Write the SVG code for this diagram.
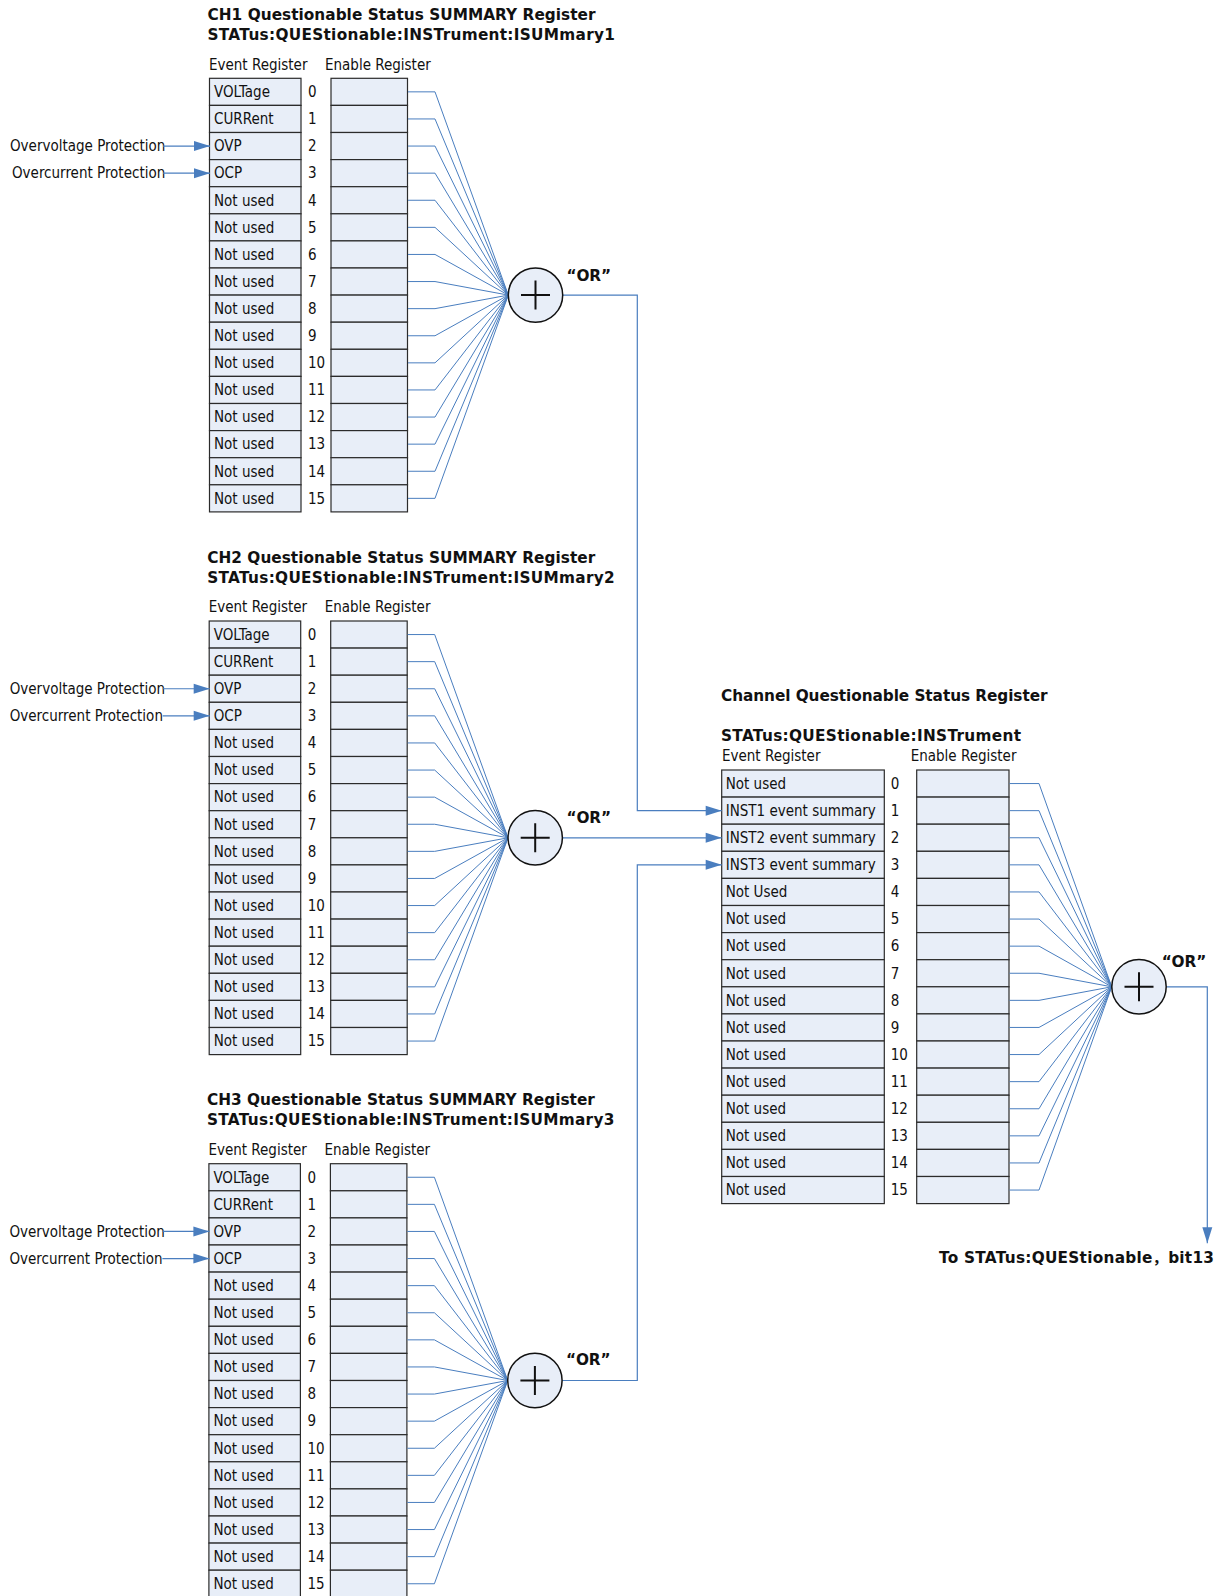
<svg xmlns="http://www.w3.org/2000/svg" width="1226" height="1596" viewBox="0 0 1226 1596">
<style>
.reg{fill:#e8eef8;stroke:#2b2b2b;stroke-width:1.2}
.t{font-family:"DejaVu Sans Condensed","DejaVu Sans",sans-serif;font-size:15px;fill:#111}
.h{font-family:"DejaVu Sans","Noto Sans CJK SC",sans-serif;font-weight:bold;font-size:15.3px;fill:#111}
.w{fill:none;stroke:#4a7ebf;stroke-width:1}
.a{fill:none;stroke:#4a7ebf;stroke-width:1.2;marker-end:url(#arr)}
.orc{fill:#e8eef8;stroke:#111;stroke-width:1.5}
.pl{stroke:#111;stroke-width:2;fill:none}
</style>
<defs>
<marker id="arr" markerUnits="userSpaceOnUse" markerWidth="16" markerHeight="10" refX="16" refY="5" orient="auto" overflow="visible">
<path d="M0,0 L16,5 L0,10 z" fill="#4a7ebf"/>
</marker>
</defs>
<rect width="1226" height="1596" fill="#fff"/>

<g id="ch1">
<text class="h" x="207.5" y="20" textLength="388">CH1 Questionable Status SUMMARY Register</text>
<text class="h" x="207.5" y="40" textLength="407.5">STATus:QUEStionable:INSTrument:ISUMmary1</text>
<text class="t" x="209" y="69.5">Event Register</text>
<text class="t" x="325" y="69.5">Enable Register</text>
<text class="t" x="10" y="151.35">Overvoltage Protection</text>
<text class="t" x="12" y="178.45">Overcurrent Protection</text>
<rect class="reg" x="209.5" y="78.3" width="91.5" height="27.1"/><text class="t" x="214" y="97.15">VOLTage</text><text class="t" x="308" y="97.15">0</text><rect class="reg" x="331" y="78.3" width="76.5" height="27.1"/>
<rect class="reg" x="209.5" y="105.4" width="91.5" height="27.1"/><text class="t" x="214" y="124.25">CURRent</text><text class="t" x="308" y="124.25">1</text><rect class="reg" x="331" y="105.4" width="76.5" height="27.1"/>
<rect class="reg" x="209.5" y="132.5" width="91.5" height="27.1"/><text class="t" x="214" y="151.35">OVP</text><text class="t" x="308" y="151.35">2</text><rect class="reg" x="331" y="132.5" width="76.5" height="27.1"/>
<rect class="reg" x="209.5" y="159.6" width="91.5" height="27.1"/><text class="t" x="214" y="178.45">OCP</text><text class="t" x="308" y="178.45">3</text><rect class="reg" x="331" y="159.6" width="76.5" height="27.1"/>
<rect class="reg" x="209.5" y="186.7" width="91.5" height="27.1"/><text class="t" x="214" y="205.55">Not used</text><text class="t" x="308" y="205.55">4</text><rect class="reg" x="331" y="186.7" width="76.5" height="27.1"/>
<rect class="reg" x="209.5" y="213.8" width="91.5" height="27.1"/><text class="t" x="214" y="232.65">Not used</text><text class="t" x="308" y="232.65">5</text><rect class="reg" x="331" y="213.8" width="76.5" height="27.1"/>
<rect class="reg" x="209.5" y="240.9" width="91.5" height="27.1"/><text class="t" x="214" y="259.75">Not used</text><text class="t" x="308" y="259.75">6</text><rect class="reg" x="331" y="240.9" width="76.5" height="27.1"/>
<rect class="reg" x="209.5" y="268" width="91.5" height="27.1"/><text class="t" x="214" y="286.85">Not used</text><text class="t" x="308" y="286.85">7</text><rect class="reg" x="331" y="268" width="76.5" height="27.1"/>
<rect class="reg" x="209.5" y="295.1" width="91.5" height="27.1"/><text class="t" x="214" y="313.95">Not used</text><text class="t" x="308" y="313.95">8</text><rect class="reg" x="331" y="295.1" width="76.5" height="27.1"/>
<rect class="reg" x="209.5" y="322.2" width="91.5" height="27.1"/><text class="t" x="214" y="341.05">Not used</text><text class="t" x="308" y="341.05">9</text><rect class="reg" x="331" y="322.2" width="76.5" height="27.1"/>
<rect class="reg" x="209.5" y="349.3" width="91.5" height="27.1"/><text class="t" x="214" y="368.15">Not used</text><text class="t" x="308" y="368.15">10</text><rect class="reg" x="331" y="349.3" width="76.5" height="27.1"/>
<rect class="reg" x="209.5" y="376.4" width="91.5" height="27.1"/><text class="t" x="214" y="395.25">Not used</text><text class="t" x="308" y="395.25">11</text><rect class="reg" x="331" y="376.4" width="76.5" height="27.1"/>
<rect class="reg" x="209.5" y="403.5" width="91.5" height="27.1"/><text class="t" x="214" y="422.35">Not used</text><text class="t" x="308" y="422.35">12</text><rect class="reg" x="331" y="403.5" width="76.5" height="27.1"/>
<rect class="reg" x="209.5" y="430.6" width="91.5" height="27.1"/><text class="t" x="214" y="449.45">Not used</text><text class="t" x="308" y="449.45">13</text><rect class="reg" x="331" y="430.6" width="76.5" height="27.1"/>
<rect class="reg" x="209.5" y="457.7" width="91.5" height="27.1"/><text class="t" x="214" y="476.55">Not used</text><text class="t" x="308" y="476.55">14</text><rect class="reg" x="331" y="457.7" width="76.5" height="27.1"/>
<rect class="reg" x="209.5" y="484.8" width="91.5" height="27.1"/><text class="t" x="214" y="503.65">Not used</text><text class="t" x="308" y="503.65">15</text><rect class="reg" x="331" y="484.8" width="76.5" height="27.1"/>
</g>

<g id="ch2" transform="translate(-0.3,542.7)">
<text class="h" x="207.5" y="20" textLength="388">CH2 Questionable Status SUMMARY Register</text>
<text class="h" x="207.5" y="40" textLength="407.5">STATus:QUEStionable:INSTrument:ISUMmary2</text>
<text class="t" x="209" y="69.5">Event Register</text>
<text class="t" x="325" y="69.5">Enable Register</text>
<text class="t" x="10" y="151.35">Overvoltage Protection</text>
<text class="t" x="10" y="178.45">Overcurrent Protection</text>
<rect class="reg" x="209.5" y="78.3" width="91.5" height="27.1"/><text class="t" x="214" y="97.15">VOLTage</text><text class="t" x="308" y="97.15">0</text><rect class="reg" x="331" y="78.3" width="76.5" height="27.1"/>
<rect class="reg" x="209.5" y="105.4" width="91.5" height="27.1"/><text class="t" x="214" y="124.25">CURRent</text><text class="t" x="308" y="124.25">1</text><rect class="reg" x="331" y="105.4" width="76.5" height="27.1"/>
<rect class="reg" x="209.5" y="132.5" width="91.5" height="27.1"/><text class="t" x="214" y="151.35">OVP</text><text class="t" x="308" y="151.35">2</text><rect class="reg" x="331" y="132.5" width="76.5" height="27.1"/>
<rect class="reg" x="209.5" y="159.6" width="91.5" height="27.1"/><text class="t" x="214" y="178.45">OCP</text><text class="t" x="308" y="178.45">3</text><rect class="reg" x="331" y="159.6" width="76.5" height="27.1"/>
<rect class="reg" x="209.5" y="186.7" width="91.5" height="27.1"/><text class="t" x="214" y="205.55">Not used</text><text class="t" x="308" y="205.55">4</text><rect class="reg" x="331" y="186.7" width="76.5" height="27.1"/>
<rect class="reg" x="209.5" y="213.8" width="91.5" height="27.1"/><text class="t" x="214" y="232.65">Not used</text><text class="t" x="308" y="232.65">5</text><rect class="reg" x="331" y="213.8" width="76.5" height="27.1"/>
<rect class="reg" x="209.5" y="240.9" width="91.5" height="27.1"/><text class="t" x="214" y="259.75">Not used</text><text class="t" x="308" y="259.75">6</text><rect class="reg" x="331" y="240.9" width="76.5" height="27.1"/>
<rect class="reg" x="209.5" y="268" width="91.5" height="27.1"/><text class="t" x="214" y="286.85">Not used</text><text class="t" x="308" y="286.85">7</text><rect class="reg" x="331" y="268" width="76.5" height="27.1"/>
<rect class="reg" x="209.5" y="295.1" width="91.5" height="27.1"/><text class="t" x="214" y="313.95">Not used</text><text class="t" x="308" y="313.95">8</text><rect class="reg" x="331" y="295.1" width="76.5" height="27.1"/>
<rect class="reg" x="209.5" y="322.2" width="91.5" height="27.1"/><text class="t" x="214" y="341.05">Not used</text><text class="t" x="308" y="341.05">9</text><rect class="reg" x="331" y="322.2" width="76.5" height="27.1"/>
<rect class="reg" x="209.5" y="349.3" width="91.5" height="27.1"/><text class="t" x="214" y="368.15">Not used</text><text class="t" x="308" y="368.15">10</text><rect class="reg" x="331" y="349.3" width="76.5" height="27.1"/>
<rect class="reg" x="209.5" y="376.4" width="91.5" height="27.1"/><text class="t" x="214" y="395.25">Not used</text><text class="t" x="308" y="395.25">11</text><rect class="reg" x="331" y="376.4" width="76.5" height="27.1"/>
<rect class="reg" x="209.5" y="403.5" width="91.5" height="27.1"/><text class="t" x="214" y="422.35">Not used</text><text class="t" x="308" y="422.35">12</text><rect class="reg" x="331" y="403.5" width="76.5" height="27.1"/>
<rect class="reg" x="209.5" y="430.6" width="91.5" height="27.1"/><text class="t" x="214" y="449.45">Not used</text><text class="t" x="308" y="449.45">13</text><rect class="reg" x="331" y="430.6" width="76.5" height="27.1"/>
<rect class="reg" x="209.5" y="457.7" width="91.5" height="27.1"/><text class="t" x="214" y="476.55">Not used</text><text class="t" x="308" y="476.55">14</text><rect class="reg" x="331" y="457.7" width="76.5" height="27.1"/>
<rect class="reg" x="209.5" y="484.8" width="91.5" height="27.1"/><text class="t" x="214" y="503.65">Not used</text><text class="t" x="308" y="503.65">15</text><rect class="reg" x="331" y="484.8" width="76.5" height="27.1"/>
</g>

<g id="ch3" transform="translate(-0.6,1085.4)">
<text class="h" x="207.5" y="20" textLength="388">CH3 Questionable Status SUMMARY Register</text>
<text class="h" x="207.5" y="40" textLength="407.5">STATus:QUEStionable:INSTrument:ISUMmary3</text>
<text class="t" x="209" y="69.5">Event Register</text>
<text class="t" x="325" y="69.5">Enable Register</text>
<text class="t" x="10" y="151.35">Overvoltage Protection</text>
<text class="t" x="10" y="178.45">Overcurrent Protection</text>
<rect class="reg" x="209.5" y="78.3" width="91.5" height="27.1"/><text class="t" x="214" y="97.15">VOLTage</text><text class="t" x="308" y="97.15">0</text><rect class="reg" x="331" y="78.3" width="76.5" height="27.1"/>
<rect class="reg" x="209.5" y="105.4" width="91.5" height="27.1"/><text class="t" x="214" y="124.25">CURRent</text><text class="t" x="308" y="124.25">1</text><rect class="reg" x="331" y="105.4" width="76.5" height="27.1"/>
<rect class="reg" x="209.5" y="132.5" width="91.5" height="27.1"/><text class="t" x="214" y="151.35">OVP</text><text class="t" x="308" y="151.35">2</text><rect class="reg" x="331" y="132.5" width="76.5" height="27.1"/>
<rect class="reg" x="209.5" y="159.6" width="91.5" height="27.1"/><text class="t" x="214" y="178.45">OCP</text><text class="t" x="308" y="178.45">3</text><rect class="reg" x="331" y="159.6" width="76.5" height="27.1"/>
<rect class="reg" x="209.5" y="186.7" width="91.5" height="27.1"/><text class="t" x="214" y="205.55">Not used</text><text class="t" x="308" y="205.55">4</text><rect class="reg" x="331" y="186.7" width="76.5" height="27.1"/>
<rect class="reg" x="209.5" y="213.8" width="91.5" height="27.1"/><text class="t" x="214" y="232.65">Not used</text><text class="t" x="308" y="232.65">5</text><rect class="reg" x="331" y="213.8" width="76.5" height="27.1"/>
<rect class="reg" x="209.5" y="240.9" width="91.5" height="27.1"/><text class="t" x="214" y="259.75">Not used</text><text class="t" x="308" y="259.75">6</text><rect class="reg" x="331" y="240.9" width="76.5" height="27.1"/>
<rect class="reg" x="209.5" y="268" width="91.5" height="27.1"/><text class="t" x="214" y="286.85">Not used</text><text class="t" x="308" y="286.85">7</text><rect class="reg" x="331" y="268" width="76.5" height="27.1"/>
<rect class="reg" x="209.5" y="295.1" width="91.5" height="27.1"/><text class="t" x="214" y="313.95">Not used</text><text class="t" x="308" y="313.95">8</text><rect class="reg" x="331" y="295.1" width="76.5" height="27.1"/>
<rect class="reg" x="209.5" y="322.2" width="91.5" height="27.1"/><text class="t" x="214" y="341.05">Not used</text><text class="t" x="308" y="341.05">9</text><rect class="reg" x="331" y="322.2" width="76.5" height="27.1"/>
<rect class="reg" x="209.5" y="349.3" width="91.5" height="27.1"/><text class="t" x="214" y="368.15">Not used</text><text class="t" x="308" y="368.15">10</text><rect class="reg" x="331" y="349.3" width="76.5" height="27.1"/>
<rect class="reg" x="209.5" y="376.4" width="91.5" height="27.1"/><text class="t" x="214" y="395.25">Not used</text><text class="t" x="308" y="395.25">11</text><rect class="reg" x="331" y="376.4" width="76.5" height="27.1"/>
<rect class="reg" x="209.5" y="403.5" width="91.5" height="27.1"/><text class="t" x="214" y="422.35">Not used</text><text class="t" x="308" y="422.35">12</text><rect class="reg" x="331" y="403.5" width="76.5" height="27.1"/>
<rect class="reg" x="209.5" y="430.6" width="91.5" height="27.1"/><text class="t" x="214" y="449.45">Not used</text><text class="t" x="308" y="449.45">13</text><rect class="reg" x="331" y="430.6" width="76.5" height="27.1"/>
<rect class="reg" x="209.5" y="457.7" width="91.5" height="27.1"/><text class="t" x="214" y="476.55">Not used</text><text class="t" x="308" y="476.55">14</text><rect class="reg" x="331" y="457.7" width="76.5" height="27.1"/>
<rect class="reg" x="209.5" y="484.8" width="91.5" height="27.1"/><text class="t" x="214" y="503.65">Not used</text><text class="t" x="308" y="503.65">15</text><rect class="reg" x="331" y="484.8" width="76.5" height="27.1"/>
</g>

<g id="chq" transform="translate(0,691.7)">
<text class="h" x="721" y="9" textLength="326.5">Channel Questionable Status Register</text>
<text class="h" x="721" y="49" textLength="300">STATus:QUEStionable:INSTrument</text>
<text class="t" x="722" y="69">Event Register</text>
<text class="t" x="910.7" y="69">Enable Register</text>
<rect class="reg" x="721.7" y="78.3" width="162.6" height="27.1"/><text class="t" x="725.7" y="97.15">Not used</text><text class="t" x="890.7" y="97.15">0</text><rect class="reg" x="916.7" y="78.3" width="92.3" height="27.1"/>
<rect class="reg" x="721.7" y="105.4" width="162.6" height="27.1"/><text class="t" x="725.7" y="124.25">INST1 event summary</text><text class="t" x="890.7" y="124.25">1</text><rect class="reg" x="916.7" y="105.4" width="92.3" height="27.1"/>
<rect class="reg" x="721.7" y="132.5" width="162.6" height="27.1"/><text class="t" x="725.7" y="151.35">INST2 event summary</text><text class="t" x="890.7" y="151.35">2</text><rect class="reg" x="916.7" y="132.5" width="92.3" height="27.1"/>
<rect class="reg" x="721.7" y="159.6" width="162.6" height="27.1"/><text class="t" x="725.7" y="178.45">INST3 event summary</text><text class="t" x="890.7" y="178.45">3</text><rect class="reg" x="916.7" y="159.6" width="92.3" height="27.1"/>
<rect class="reg" x="721.7" y="186.7" width="162.6" height="27.1"/><text class="t" x="725.7" y="205.55">Not Used</text><text class="t" x="890.7" y="205.55">4</text><rect class="reg" x="916.7" y="186.7" width="92.3" height="27.1"/>
<rect class="reg" x="721.7" y="213.8" width="162.6" height="27.1"/><text class="t" x="725.7" y="232.65">Not used</text><text class="t" x="890.7" y="232.65">5</text><rect class="reg" x="916.7" y="213.8" width="92.3" height="27.1"/>
<rect class="reg" x="721.7" y="240.9" width="162.6" height="27.1"/><text class="t" x="725.7" y="259.75">Not used</text><text class="t" x="890.7" y="259.75">6</text><rect class="reg" x="916.7" y="240.9" width="92.3" height="27.1"/>
<rect class="reg" x="721.7" y="268" width="162.6" height="27.1"/><text class="t" x="725.7" y="286.85">Not used</text><text class="t" x="890.7" y="286.85">7</text><rect class="reg" x="916.7" y="268" width="92.3" height="27.1"/>
<rect class="reg" x="721.7" y="295.1" width="162.6" height="27.1"/><text class="t" x="725.7" y="313.95">Not used</text><text class="t" x="890.7" y="313.95">8</text><rect class="reg" x="916.7" y="295.1" width="92.3" height="27.1"/>
<rect class="reg" x="721.7" y="322.2" width="162.6" height="27.1"/><text class="t" x="725.7" y="341.05">Not used</text><text class="t" x="890.7" y="341.05">9</text><rect class="reg" x="916.7" y="322.2" width="92.3" height="27.1"/>
<rect class="reg" x="721.7" y="349.3" width="162.6" height="27.1"/><text class="t" x="725.7" y="368.15">Not used</text><text class="t" x="890.7" y="368.15">10</text><rect class="reg" x="916.7" y="349.3" width="92.3" height="27.1"/>
<rect class="reg" x="721.7" y="376.4" width="162.6" height="27.1"/><text class="t" x="725.7" y="395.25">Not used</text><text class="t" x="890.7" y="395.25">11</text><rect class="reg" x="916.7" y="376.4" width="92.3" height="27.1"/>
<rect class="reg" x="721.7" y="403.5" width="162.6" height="27.1"/><text class="t" x="725.7" y="422.35">Not used</text><text class="t" x="890.7" y="422.35">12</text><rect class="reg" x="916.7" y="403.5" width="92.3" height="27.1"/>
<rect class="reg" x="721.7" y="430.6" width="162.6" height="27.1"/><text class="t" x="725.7" y="449.45">Not used</text><text class="t" x="890.7" y="449.45">13</text><rect class="reg" x="916.7" y="430.6" width="92.3" height="27.1"/>
<rect class="reg" x="721.7" y="457.7" width="162.6" height="27.1"/><text class="t" x="725.7" y="476.55">Not used</text><text class="t" x="890.7" y="476.55">14</text><rect class="reg" x="916.7" y="457.7" width="92.3" height="27.1"/>
<rect class="reg" x="721.7" y="484.8" width="162.6" height="27.1"/><text class="t" x="725.7" y="503.65">Not used</text><text class="t" x="890.7" y="503.65">15</text><rect class="reg" x="916.7" y="484.8" width="92.3" height="27.1"/>
</g>

<g id="connectors">
<g id="fan1">
<polyline class="w" points="408,91.85 435,91.85 508.3,295.1"/>
<polyline class="w" points="408,118.95 435,118.95 508.3,295.1"/>
<polyline class="w" points="408,146.05 435,146.05 508.3,295.1"/>
<polyline class="w" points="408,173.15 435,173.15 508.3,295.1"/>
<polyline class="w" points="408,200.25 435,200.25 508.3,295.1"/>
<polyline class="w" points="408,227.35 435,227.35 508.3,295.1"/>
<polyline class="w" points="408,254.45 435,254.45 508.3,295.1"/>
<polyline class="w" points="408,281.55 435,281.55 508.3,295.1"/>
<polyline class="w" points="408,308.65 435,308.65 508.3,295.1"/>
<polyline class="w" points="408,335.75 435,335.75 508.3,295.1"/>
<polyline class="w" points="408,362.85 435,362.85 508.3,295.1"/>
<polyline class="w" points="408,389.95 435,389.95 508.3,295.1"/>
<polyline class="w" points="408,417.05 435,417.05 508.3,295.1"/>
<polyline class="w" points="408,444.15 435,444.15 508.3,295.1"/>
<polyline class="w" points="408,471.25 435,471.25 508.3,295.1"/>
<polyline class="w" points="408,498.35 435,498.35 508.3,295.1"/>
<line class="a" x1="163" y1="146.05" x2="210" y2="146.05"/>
<line class="a" x1="163" y1="173.15" x2="210" y2="173.15"/>
</g>
<g id="fan2" transform="translate(-0.3,542.7)">
<polyline class="w" points="408,91.85 435,91.85 508.3,295.1"/>
<polyline class="w" points="408,118.95 435,118.95 508.3,295.1"/>
<polyline class="w" points="408,146.05 435,146.05 508.3,295.1"/>
<polyline class="w" points="408,173.15 435,173.15 508.3,295.1"/>
<polyline class="w" points="408,200.25 435,200.25 508.3,295.1"/>
<polyline class="w" points="408,227.35 435,227.35 508.3,295.1"/>
<polyline class="w" points="408,254.45 435,254.45 508.3,295.1"/>
<polyline class="w" points="408,281.55 435,281.55 508.3,295.1"/>
<polyline class="w" points="408,308.65 435,308.65 508.3,295.1"/>
<polyline class="w" points="408,335.75 435,335.75 508.3,295.1"/>
<polyline class="w" points="408,362.85 435,362.85 508.3,295.1"/>
<polyline class="w" points="408,389.95 435,389.95 508.3,295.1"/>
<polyline class="w" points="408,417.05 435,417.05 508.3,295.1"/>
<polyline class="w" points="408,444.15 435,444.15 508.3,295.1"/>
<polyline class="w" points="408,471.25 435,471.25 508.3,295.1"/>
<polyline class="w" points="408,498.35 435,498.35 508.3,295.1"/>
<line class="a" x1="163" y1="146.05" x2="210" y2="146.05"/>
<line class="a" x1="163" y1="173.15" x2="210" y2="173.15"/>
</g>
<g id="fan3" transform="translate(-0.6,1085.4)">
<polyline class="w" points="408,91.85 435,91.85 508.3,295.1"/>
<polyline class="w" points="408,118.95 435,118.95 508.3,295.1"/>
<polyline class="w" points="408,146.05 435,146.05 508.3,295.1"/>
<polyline class="w" points="408,173.15 435,173.15 508.3,295.1"/>
<polyline class="w" points="408,200.25 435,200.25 508.3,295.1"/>
<polyline class="w" points="408,227.35 435,227.35 508.3,295.1"/>
<polyline class="w" points="408,254.45 435,254.45 508.3,295.1"/>
<polyline class="w" points="408,281.55 435,281.55 508.3,295.1"/>
<polyline class="w" points="408,308.65 435,308.65 508.3,295.1"/>
<polyline class="w" points="408,335.75 435,335.75 508.3,295.1"/>
<polyline class="w" points="408,362.85 435,362.85 508.3,295.1"/>
<polyline class="w" points="408,389.95 435,389.95 508.3,295.1"/>
<polyline class="w" points="408,417.05 435,417.05 508.3,295.1"/>
<polyline class="w" points="408,444.15 435,444.15 508.3,295.1"/>
<polyline class="w" points="408,471.25 435,471.25 508.3,295.1"/>
<polyline class="w" points="408,498.35 435,498.35 508.3,295.1"/>
<line class="a" x1="163" y1="146.05" x2="210" y2="146.05"/>
<line class="a" x1="163" y1="173.15" x2="210" y2="173.15"/>
</g>
<g id="fanq" transform="translate(0,691.7)">
<polyline class="w" points="1009.5,91.85 1039,91.85 1111.7,295.1"/>
<polyline class="w" points="1009.5,118.95 1039,118.95 1111.7,295.1"/>
<polyline class="w" points="1009.5,146.05 1039,146.05 1111.7,295.1"/>
<polyline class="w" points="1009.5,173.15 1039,173.15 1111.7,295.1"/>
<polyline class="w" points="1009.5,200.25 1039,200.25 1111.7,295.1"/>
<polyline class="w" points="1009.5,227.35 1039,227.35 1111.7,295.1"/>
<polyline class="w" points="1009.5,254.45 1039,254.45 1111.7,295.1"/>
<polyline class="w" points="1009.5,281.55 1039,281.55 1111.7,295.1"/>
<polyline class="w" points="1009.5,308.65 1039,308.65 1111.7,295.1"/>
<polyline class="w" points="1009.5,335.75 1039,335.75 1111.7,295.1"/>
<polyline class="w" points="1009.5,362.85 1039,362.85 1111.7,295.1"/>
<polyline class="w" points="1009.5,389.95 1039,389.95 1111.7,295.1"/>
<polyline class="w" points="1009.5,417.05 1039,417.05 1111.7,295.1"/>
<polyline class="w" points="1009.5,444.15 1039,444.15 1111.7,295.1"/>
<polyline class="w" points="1009.5,471.25 1039,471.25 1111.7,295.1"/>
<polyline class="w" points="1009.5,498.35 1039,498.35 1111.7,295.1"/>
</g>
<polyline class="a" points="562.7,295.1 637.3,295.1 637.3,810.65 721.7,810.65"/>
<line class="a" x1="562.7" y1="837.8" x2="721.7" y2="837.8"/>
<polyline class="a" points="562.2,1380.5 637.3,1380.5 637.3,864.85 721.7,864.85"/>
<polyline class="a" points="1166.2,986.8 1207.3,986.8 1207.3,1243.3"/>
</g>

<g id="or1">
<circle class="orc" cx="535.5" cy="295.1" r="27.2"/>
<path class="pl" d="M521,295.1 h29 M535.5,280.6 v29"/>
<text class="h" x="566.5" y="281" textLength="44.5">“OR”</text>
</g>
<g id="or2">
<circle class="orc" cx="535.2" cy="837.8" r="27.2"/>
<path class="pl" d="M520.7,837.8 h29 M535.2,823.3 v29"/>
<text class="h" x="566.5" y="822.5" textLength="44.5">“OR”</text>
</g>
<g id="or3">
<circle class="orc" cx="534.9" cy="1380.5" r="27.2"/>
<path class="pl" d="M520.4,1380.5 h29 M534.9,1366 v29"/>
<text class="h" x="566" y="1365" textLength="44.5">“OR”</text>
</g>
<g id="orq">
<circle class="orc" cx="1139" cy="986.8" r="27.2"/>
<path class="pl" d="M1124.5,986.8 h29 M1139,972.3 v29"/>
<text class="h" x="1161.7" y="967.3" textLength="44.5">“OR”</text>
</g>
<g id="out">
<text class="h" x="939" y="1263.3" textLength="275">To STATus:QUEStionable，bit13</text>
</g>
</svg>
